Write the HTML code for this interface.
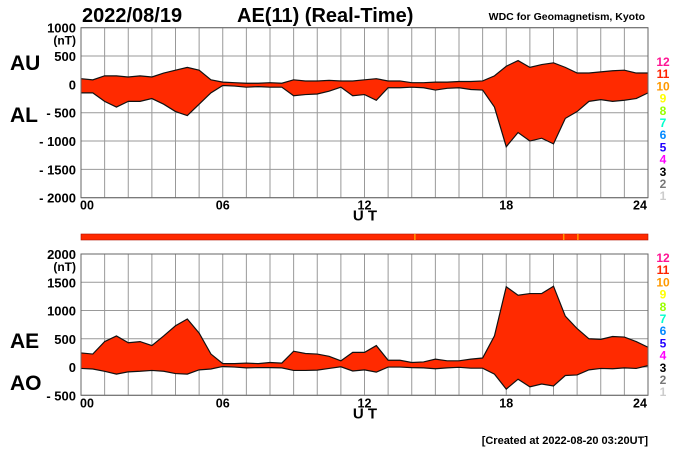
<!DOCTYPE html>
<html><head><meta charset="utf-8"><style>
body{margin:0;background:#fff;width:700px;height:450px;overflow:hidden}
svg text{font-family:"Liberation Sans",sans-serif}
</style></head><body>
<svg id="chart" width="700" height="450" viewBox="0 0 700 450">
<text x="82" y="22" font-size="20" font-weight="bold">2022/08/19</text>
<text x="237" y="22" font-size="20" font-weight="bold">AE(11) (Real-Time)</text>
<text x="645" y="20" font-size="10.5" font-weight="bold" text-anchor="end">WDC for Geomagnetism, Kyoto</text>
<text x="10" y="70" font-size="21" font-weight="bold">AU</text>
<text x="10" y="122" font-size="21" font-weight="bold">AL</text>
<text x="10" y="348" font-size="21" font-weight="bold">AE</text>
<text x="10" y="390" font-size="21" font-weight="bold">AO</text>
<text x="648" y="444" font-size="11" font-weight="bold" text-anchor="end">[Created at 2022-08-20 03:20UT]</text>
<g id="g1"></g><g id="g2"></g>
</svg>
<script>
const hours=[0,0.5,1,1.5,2,2.5,3,3.5,4,4.5,5,5.5,6,6.5,7,7.5,8,8.5,9,9.5,10,10.5,11,11.5,12,12.5,13,13.5,14,14.5,15,15.5,16,16.5,17,17.5,18,18.5,19,19.5,20,20.5,21,21.5,22,22.5,23,23.5,24];
const auValues=[100,80,150,150,130,150,130,200,250,300,250,80,40,30,20,20,30,20,80,60,60,70,60,60,80,100,60,60,30,30,40,40,50,50,60,150,320,420,300,350,380,300,200,200,220,240,250,200,200];
const alValues=[-150,-150,-300,-400,-300,-300,-250,-350,-480,-550,-350,-150,-20,-30,-50,-40,-50,-50,-200,-180,-170,-120,-50,-200,-180,-280,-60,-60,-50,-60,-100,-70,-60,-90,-100,-400,-1100,-850,-1000,-950,-1050,-600,-480,-300,-270,-300,-280,-250,-150];
const topTicks=[1000,500,0,-500,-1000,-1500,-2000];
const botTicks=[2000,1500,1000,500,0,-500];
const xTickLabels=["00","06","12","18","24"];
const stationLabels=["12","11","10","9","8","7","6","5","4","3","2","1"];
const stationColors=["#ff1493","#ff2200","#ff9900","#ffff00","#99ff00","#00ffcc","#0088ff","#2200ff","#ff00ff","#000000","#777777","#cccccc"];
const aeValues=auValues.map((u,i)=>u-alValues[i]);
const aoValues=auValues.map((u,i)=>(u+alValues[i])/2);
const NS="http://www.w3.org/2000/svg";
const X0=81,X1=648;
const xs=h=>X0+(X1-X0)*h/24;
function mk(p,t,a){const e=document.createElementNS(NS,t);for(const k in a)e.setAttribute(k,a[k]);p.appendChild(e);return e;}
function panel(g,top,bot,vmax,vmin,ticks,upper,lower,pname,legTop){
  const ys=v=>top+(vmax-v)/(vmax-vmin)*(bot-top);
  for(let h=0;h<=24;h++){const l=mk(g,'line',{x1:xs(h),x2:xs(h),y1:top,y2:bot,stroke:'#999','stroke-width':1});
    }
  ticks.forEach(t=>{const l=mk(g,'line',{x1:X0,x2:X1,y1:ys(t),y2:ys(t),stroke:'#999','stroke-width':1});
    
    const s=t<0?'- '+(-t):''+t;
    const tx=mk(g,'text',{x:76,y:ys(t)+5,'font-size':13,'font-weight':'bold','text-anchor':'end'});tx.textContent=s;
    });
  const u=mk(g,'text',{x:76,y:ys(ticks[0])+17,'font-size':12,'font-weight':'bold','text-anchor':'end'});u.textContent='(nT)';
  
  let pts=hours.map((h,i)=>xs(h)+','+ys(upper[i]));
  let pts2=hours.map((h,i)=>xs(h)+','+ys(lower[i])).reverse();
  const poly=mk(g,'polygon',{points:pts.concat(pts2).join(' '),fill:'#ff2a00',stroke:'none'});
  
  const l1=mk(g,'polyline',{points:pts.join(' '),fill:'none',stroke:'#111','stroke-width':1.2});
  
  const l2=mk(g,'polyline',{points:pts2.join(' '),fill:'none',stroke:'#111','stroke-width':1.2});
  
  mk(g,'rect',{x:X0,y:top,width:X1-X0,height:bot-top,fill:'none',stroke:'#666'});
  xTickLabels.forEach((s,i)=>{const t=mk(g,'text',{x:xs(i*6)+(i==4?-8:(i==0?-1:0)),y:bot+12,'font-size':12.5,'font-weight':'bold','text-anchor':i==0?'start':'middle'});t.textContent=s;
    });
  const ut=mk(g,'text',{x:365,y:bot+23,'font-size':15,'font-weight':'bold','text-anchor':'middle'});ut.textContent='U T';
  
  stationLabels.forEach((s,i)=>{const t=mk(g,'text',{x:663,y:legTop+i*12.2,'font-size':12,'font-weight':'bold','text-anchor':'middle',fill:stationColors[i]});t.textContent=s;
    });
}
panel(document.getElementById('g1'),27.7,197.7,1000,-2000,topTicks,auValues,alValues,'au-al',66);
panel(document.getElementById('g2'),254,395.3,2000,-500,botTicks,aeValues,aoValues,'ae-ao',262);
const g=document.getElementById('g1');
const bar=mk(g,'rect',{x:X0,y:234,width:X1-X0,height:6,fill:'#ff2a00',stroke:'#b01000','stroke-width':0.6});


[14.1,20.4,21.0].forEach(h=>{const s=mk(g,'rect',{x:xs(h),y:234,width:1.5,height:6,fill:'#ff9900'});
  
  });
</script>
</body></html>
